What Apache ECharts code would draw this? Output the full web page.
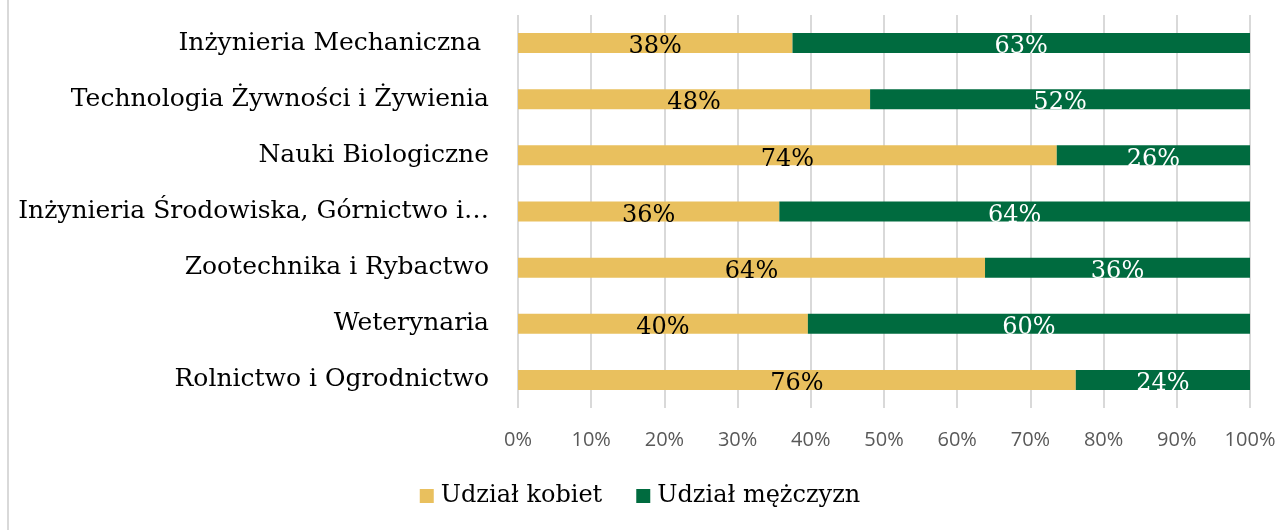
<!DOCTYPE html>
<html>
<head>
<meta charset="utf-8">
<script src="https://cdn.jsdelivr.net/npm/echarts@6/dist/echarts.min.js"></script>
<style>
  html, body { margin: 0; padding: 0; background: #fff; }
  #frame { position: absolute; left: 7px; top: 0; width: 2px; height: 530px; background: #d9d9d9; }
  #chart { width: 1280px; height: 530px; }
</style>
</head>
<body>
<div id="chart"></div>
<div id="frame"></div>
<script>
// kategorie od dołu do góry (oś Y kategorii w ECharts rośnie w górę)
const categories = [
  'Rolnictwo i Ogrodnictwo',
  'Weterynaria',
  'Zootechnika i Rybactwo',
  'Inżynieria Środowiska, Górnictwo i…',
  'Nauki Biologiczne',
  'Technologia Żywności i Żywienia',
  'Inżynieria Mechaniczna '
];
const udzialKobiet = [76.2, 39.6, 63.8, 35.7, 73.6, 48.1, 37.5];
const udzialMezczyzn = udzialKobiet.map(v => +(100 - v).toFixed(1));
const tickLabels = ['0%', '10%', '20%', '30%', '40%', '50%', '60%', '70%', '80%', '90%', '100%'];

const serif = '"DejaVu Serif", "Liberation Serif", serif';
const pct = p => Math.round(p.value) + '%';

let myChart = echarts.init(document.getElementById('chart'));
let option = {
  animation: false,
  grid: { left: 518, right: 30, top: 15, bottom: 122, containLabel: false, outerBoundsMode: 'none' },
  legend: {
    bottom: 17,
    left: 'center',
    itemWidth: 14,
    itemHeight: 14,
    itemGap: 34,
    icon: 'rect',
    textStyle: { fontFamily: serif, fontSize: 24, color: '#000', padding: [0, 0, 0, 2] },
    data: ['Udział kobiet', 'Udział mężczyzn']
  },
  xAxis: {
    type: 'value',
    min: 0,
    max: 100,
    interval: 10,
    axisLine: { show: false },
    axisTick: { show: false },
    splitLine: { lineStyle: { color: '#d9d9d9', width: 2 } },
    axisLabel: {
      margin: 22,
      color: '#595959',
      fontFamily: '"Open Sans", sans-serif',
      fontSize: 20,
      formatter: v => tickLabels[v / 10]
    }
  },
  yAxis: {
    type: 'category',
    data: categories,
    axisLine: { show: false },
    axisTick: { show: false },
    axisLabel: { margin: 29, color: '#000', fontFamily: serif, fontSize: 25 }
  },
  series: [
    {
      name: 'Udział kobiet',
      type: 'bar',
      stack: 'total',
      barWidth: 20,
      itemStyle: { color: '#E9C05E' },
      label: { show: true, position: 'inside', offset: [0, 4], color: '#000', fontFamily: serif, fontSize: 24, formatter: pct },
      data: udzialKobiet
    },
    {
      name: 'Udział mężczyzn',
      type: 'bar',
      stack: 'total',
      barWidth: 20,
      itemStyle: { color: '#006B3F' },
      label: { show: true, position: 'inside', offset: [0, 4], color: '#fff', fontFamily: serif, fontSize: 24, formatter: pct },
      data: udzialMezczyzn
    }
  ]
};
option && myChart.setOption(option);
</script>
</body>
</html>
